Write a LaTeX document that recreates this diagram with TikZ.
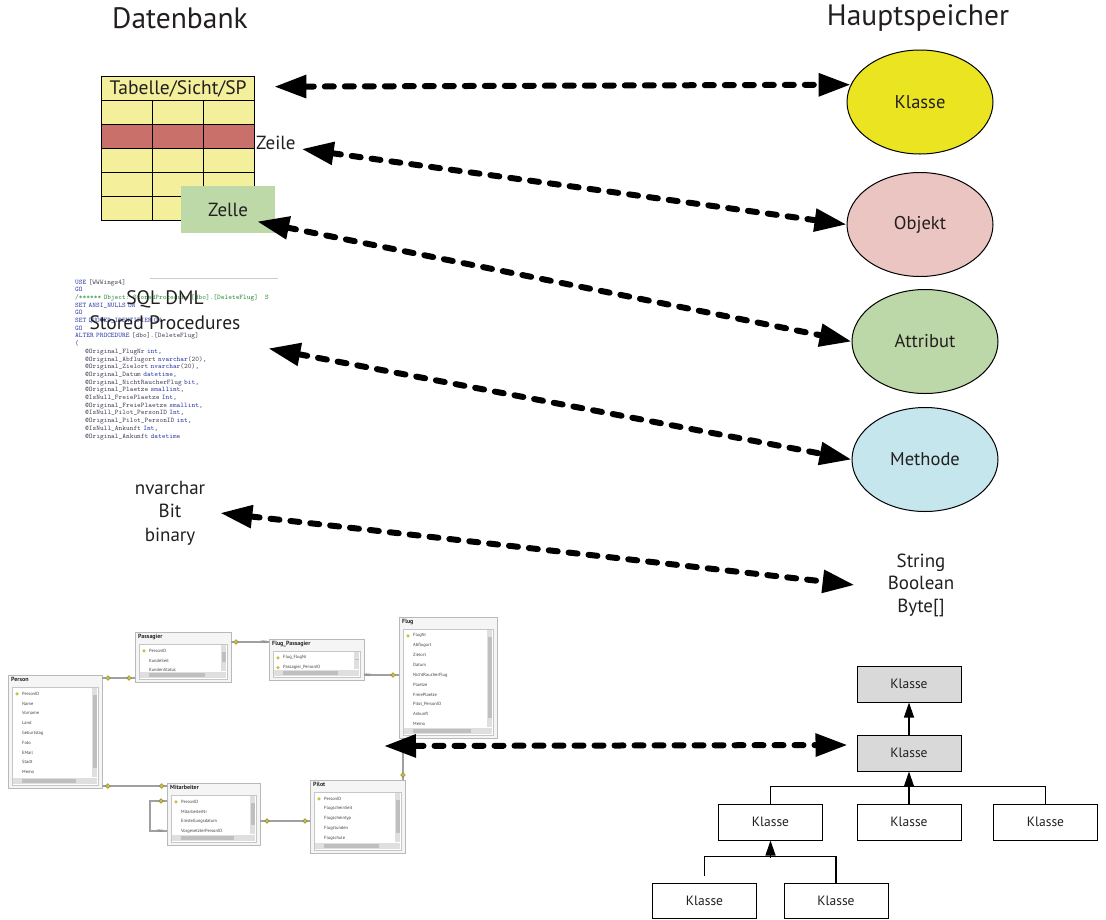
\documentclass[tikz,border=0pt]{standalone}
\usepackage{fontspec}
\setmainfont{PT Sans}
\usetikzlibrary{arrows.meta,shapes.geometric,positioning}
\definecolor{txt}{HTML}{231F20}
\definecolor{klassecol}{HTML}{EBE521}
\definecolor{objektcol}{HTML}{EBC5C1}
\definecolor{attrcol}{HTML}{BDD8A8}
\definecolor{methcol}{HTML}{C4E6EC}
\definecolor{tabyellow}{HTML}{F3EF9B}
\definecolor{tabred}{HTML}{C9706A}
\definecolor{zellecol}{HTML}{BED9A8}
\definecolor{boxgray}{HTML}{D9D9D9}
\definecolor{sqlblue}{HTML}{2F3FA8}
\definecolor{sqlgray}{HTML}{45455A}
\definecolor{sqlgreen}{HTML}{2F8F3C}
\definecolor{dbline}{HTML}{A0A0A0}
\definecolor{dbkey}{HTML}{C8C040}
\newcommand{\kw}[1]{\textcolor{sqlblue}{#1}}
\newcommand{\cm}[1]{\textcolor{sqlgreen}{#1}}
% one table of the database diagram: name, top left, width, height, title, key rows, fields
\newcommand{\dbtable}[7]{%
  \node[dbframe, minimum width=#3pt, minimum height=#4pt, anchor=north west] (#1) at #2 {};
  \node[dbtitle, anchor=north west] at ([shift={(3pt,-2pt)}]#1.north west) {#5};
  \draw[dbinner] ([shift={(4pt,-12pt)}]#1.north west) rectangle ([shift={(-4pt,3pt)}]#1.south east);
  \begin{scope}
    \clip ([shift={(4pt,-12pt)}]#1.north west) rectangle ([shift={(-11pt,11pt)}]#1.south east);
    \foreach \f [count=\i] in {#7}
      \node[dbfield, anchor=west] at ([shift={(14pt,{-9pt-9.8pt*\i})}]#1.north west) {\f};
    \foreach \i in {1,...,#6}
      \node[dbkeyicon] at ([shift={(9pt,{-9pt-9.8pt*\i})}]#1.north west) {};
  \end{scope}
  \fill[gray!25] ([shift={(-10pt,-13pt)}]#1.north east) rectangle ([shift={(-5pt,11pt)}]#1.south east);
  \fill[gray!50] ([shift={(-9.5pt,-20pt)}]#1.north east) rectangle ([shift={(-5.5pt,20pt)}]#1.south east);
  \fill[gray!25] ([shift={(5pt,4pt)}]#1.south west) rectangle ([shift={(-5pt,10pt)}]#1.south east);
  \fill[gray!50] ([shift={(14pt,5pt)}]#1.south west) rectangle ([shift={(-26pt,9pt)}]#1.south east);
}
\begin{document}
\begin{tikzpicture}[x=1pt,y=-1pt]
\tikzset{
  heading/.style={font=\fontsize{29.5}{34}\selectfont, text=txt},
  lbl/.style={font=\fontsize{19}{23}\selectfont, text=txt, align=center, inner sep=1pt},
  membubble/.style={ellipse, draw, line width=1pt, minimum width=146pt, minimum height=104pt, font=\fontsize{18.5}{22}\selectfont, text=txt},
  tabcell/.style={draw, line width=1.3pt, minimum width=51pt, minimum height=24pt, inner sep=0pt, fill=tabyellow, font=\fontsize{19.5}{22}\selectfont, text=txt},
  zellebox/.style={fill=zellecol, minimum width=94pt, minimum height=47pt, inner sep=0pt, font=\fontsize{19}{22}\selectfont, text=txt},
  link/.style={line width=6pt, dash pattern=on 9pt off 11pt, line cap=round, {Triangle[length=32pt,width=22pt]}-{Triangle[length=32pt,width=22pt]}},
  klassebox/.style={draw, line width=1pt, minimum width=104pt, minimum height=36pt, inner sep=0pt, font=\fontsize{13.5}{16}\selectfont, text=txt},
  treeline/.style={line width=1.3pt},
  inherit/.style={treeline, -{Triangle[length=15pt,width=10pt]}},
  dbframe/.style={draw=gray!55, fill=gray!8, line width=1pt, inner sep=0pt, outer sep=0pt},
  dbtitle/.style={font=\bfseries\fontsize{6}{7}\selectfont, inner sep=0pt, text=black!85},
  dbinner/.style={draw=gray!45, fill=white, line width=0.6pt},
  dbfield/.style={font=\fontsize{4.5}{5}\selectfont, inner sep=0pt, text=black!75},
  dbkeyicon/.style={circle, fill=dbkey, inner sep=0pt, minimum size=3.5pt},
  rel/.style={draw=dbline, line width=1.5pt},
  keymark/.style={diamond, fill=dbkey, draw=dbkey!60!black, line width=0.3pt, inner sep=0pt, minimum size=5pt},
  manymark/.style={inner sep=0pt, font=\fontsize{7}{7}\selectfont, text=gray}
}
\useasboundingbox (0,0) rectangle (1106,919);
%% Titles
\node[heading] (datenbank) at (180,18) {Datenbank};
\node[heading] (hauptspeicher) at (918,18) {Hauptspeicher};
%% Table
\node[tabcell, minimum width=153pt, anchor=north west] (tabhead) at (101,76) {Tabelle/Sicht/SP};
\foreach \r/\col in {1/tabyellow,2/tabred,3/tabyellow,4/tabyellow,5/tabyellow}
  \foreach \c in {0,1,2}
    \node[tabcell, fill=\col, anchor=north west] (cell-\r-\c) at ({101+51*\c},{76+24*\r}) {};
\node[zellebox] (zelle) at (228,209.5) {Zelle};
\node[lbl, anchor=west] (zeile) at (255,143) {Zeile};
%% Memory
\node[membubble, fill=klassecol] (klasse) at (920,102) {Klasse};
\node[membubble, fill=objektcol] (objekt) at (920,224.5) {Objekt};
\node[membubble, fill=attrcol] (attribut) at (925,341.5) {Attribut};
\node[membubble, fill=methcol] (methode) at (925,459.5) {Methode};
%% SQL code
\node[anchor=north west, inner sep=0pt, text width=203pt, align=left,
      font=\ttfamily\fontsize{7}{7.7}\selectfont, text=sqlgray] (sqlcode) at (75,279) {%
\kw{USE} [WWWings4]\\
\kw{GO}\\
\cm{/****** Object:  StoredProcedure [dbo].[DeleteFlug]\ \ \ S}\\
\kw{SET ANSI\_NULLS ON}\\
\kw{GO}\\
\kw{SET QUOTED\_IDENTIFIER ON}\\
\kw{GO}\\
\kw{ALTER PROCEDURE} [dbo].[DeleteFlug]\\
(\\
\hspace*{10pt}@Original\_FlugNr \kw{int},\\
\hspace*{10pt}@Original\_Abflugort \kw{nvarchar}(20),\\
\hspace*{10pt}@Original\_Zielort \kw{nvarchar}(20),\\
\hspace*{10pt}@Original\_Datum \kw{datetime},\\
\hspace*{10pt}@Original\_NichtRaucherFlug \kw{bit},\\
\hspace*{10pt}@Original\_Plaetze \kw{smallint},\\
\hspace*{10pt}@IsNull\_FreiePlaetze \kw{Int},\\
\hspace*{10pt}@Original\_FreiePlaetze \kw{smallint},\\
\hspace*{10pt}@IsNull\_Pilot\_PersonID \kw{Int},\\
\hspace*{10pt}@Original\_Pilot\_PersonID \kw{int},\\
\hspace*{10pt}@IsNull\_Ankunft \kw{Int},\\
\hspace*{10pt}@Original\_Ankunft \kw{datetime}};
\draw[gray!40, line width=1pt] (150,278) -- (sqlcode.north east |- 0,278);
\node[lbl, font=\fontsize{19.5}{25}\selectfont] (sqllabel) at (165,310.5) {SQL DML\\Stored Procedures};
%% Types
\node[lbl, font=\fontsize{19}{23.5}\selectfont] (dbtypes) at (170,513) {nvarchar\\Bit\\binary};
\node[lbl, font=\fontsize{19}{22.5}\selectfont] (nettypes) at (921,585) {String\\Boolean\\Byte[]};
%% Database diagram
\dbtable{person}{(8,675)}{94}{113}{Person}{1}{PersonID,Name,Vorname,Land,Geburtstag,Foto,EMail,Stadt,Memo}
\dbtable{passagier}{(135,632)}{96}{50}{Passagier}{1}{PersonID,KundeSeit,KundenStatus}
\dbtable{flugpass}{(269,639)}{95}{41}{Flug\_Passagier}{2}{Flug\_FlugNr,Passagier\_PersonID}
\dbtable{flug}{(399,617)}{98}{121}{Flug}{1}{FlugNr,Abflugort,Zielort,Datum,NichtRaucherFlug,Plaetze,FreiePlaetze,Pilot\_PersonID,Ankunft,Memo}
\dbtable{mitarbeiter}{(167,783)}{93}{62}{Mitarbeiter}{1}{PersonID,MitarbeiterNr,Einstellungsdatum,VorgesetzterPersonID}
\dbtable{pilot}{(310,780)}{95}{73}{Pilot}{1}{PersonID,FlugscheinSeit,Flugscheintyp,Flugstunden,Flugschule}
% relations
\path ([yshift=4pt]passagier.south west) coordinate (r1)
      ([yshift=-10pt]passagier.north east) coordinate (r2)
      ([yshift=5pt]flugpass.south east) coordinate (r3)
      ([yshift=2pt]person.south east) coordinate (r4)
      ([yshift=-18pt]mitarbeiter.north west) coordinate (r5)
      ([yshift=-48pt]mitarbeiter.north west) coordinate (r6)
      ([yshift=-38pt]mitarbeiter.north east) coordinate (r7)
      ([xshift=-2pt]pilot.north east) coordinate (r8);
\draw[rel] (person.east |- r1) -- node[pos=.18,keymark]{} node[pos=.82,keymark]{} (r1);
\draw[rel] (r2) -- node[pos=.13,keymark]{} node[pos=.87,manymark]{$\infty$} (r2 -| flugpass.west);
\draw[rel] (r3) -- node[pos=.1,manymark]{$\infty$} node[pos=.83,keymark]{} (r3 -| flug.west);
\draw[rel] (r4) -- node[pos=.09,keymark]{} node[pos=.92,keymark]{} (r4 -| mitarbeiter.west);
\draw[rel] (r5) -- ++(-17,0) |- (r6);
\node[keymark] at ([xshift=-6pt]r5) {};
\node[manymark] at ([xshift=-7pt]r6) {$\infty$};
\draw[rel] (r7) -- node[pos=.14,keymark]{} node[pos=.9,keymark]{} (r7 -| pilot.west);
\draw[rel] (r8) -- node[pos=.12,keymark]{} (r8 |- flug.south);
\coordinate (dbend) at (384,746);
%% Class hierarchy
\node[klassebox, fill=boxgray] (klasse1) at (909,684) {Klasse};
\node[klassebox, fill=boxgray] (klasse2) at (909,753) {Klasse};
\node[klassebox] (kA) at (770.5,822) {Klasse};
\node[klassebox] (kB) at (909,822) {Klasse};
\node[klassebox] (kC) at (1045.5,822) {Klasse};
\node[klassebox, minimum height=35pt] (kD) at (704.5,900.5) {Klasse};
\node[klassebox, minimum height=35pt] (kE) at (836,900.5) {Klasse};
\draw[inherit] (klasse2) -- (klasse1);
\draw[inherit] (kB) -- (klasse2);
\draw[treeline] (kA.north) -- ++(0,-17) -| (kC.north);
\draw[treeline, shorten <=7pt] (kD.north) -- ++(0,-26) -| (kE.north);
\draw[inherit] ([yshift=-17pt]kA.south) -- (kA.south);
%% Mappings
\draw[link] ([shift={(19pt,2pt)}]tabhead.east) -- (klasse.166);
\draw[link] ([shift={(5pt,-6pt)}]zeile.east) -- (objekt.west);
\draw[link] ([shift={(-18pt,-12pt)}]zelle.east) -- (attribut.west);
\draw[link] ([shift={(-10pt,11pt)}]sqlcode.east) -- (methode.west);
\draw[link] ([xshift=14pt]dbtypes.east) -- ([xshift=-32pt]nettypes.west);
\draw[link] (dbend) -- ([shift={(-9pt,8pt)}]klasse2.west);
\end{tikzpicture}
\end{document}
